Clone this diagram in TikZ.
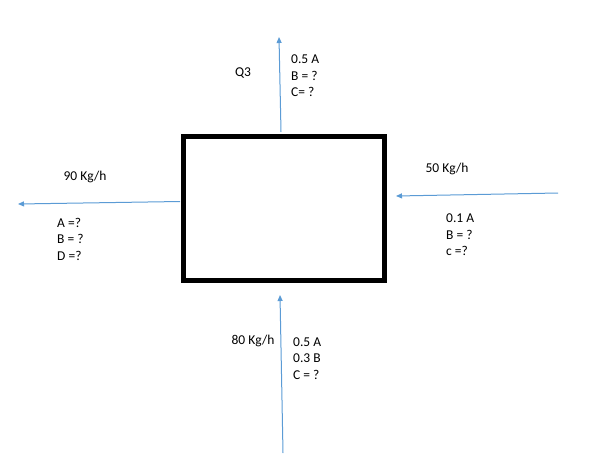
\documentclass[tikz,border=0pt]{standalone}
\usepackage{fontspec}
\setmainfont{Carlito}
\usetikzlibrary{arrows.meta}
\definecolor{flow}{HTML}{5B9BD5}
\begin{document}
\begin{tikzpicture}[x=1pt,y=-1pt,
  flowline/.style={draw=flow, line width=1pt, -{Triangle[length=6pt,width=5pt]}},
  lbl/.style={font=\fontsize{13.5}{16.5}\selectfont, inner sep=0pt, align=left}]
\useasboundingbox (0,0) rectangle (600,464);
\node[draw, line width=5pt, minimum width=200.5pt, minimum height=144pt, inner sep=0pt] (unit) at (283.75,208.5) {};
% arrow end points
\coordinate (topS) at (281,132);
\coordinate (topE) at (279,37);
\coordinate (leftS) at (180,201.5);
\coordinate (leftE) at (18,204);
\coordinate (rightS) at (558,193);
\coordinate (rightE) at (396,196);
\coordinate (botS) at (283,453);
\coordinate (botE) at (280,295);
\draw[flowline] (topS) -- (topE);
\draw[flowline] (leftS) -- (leftE);
\draw[flowline] (rightS) -- (rightE);
\draw[flowline] (botS) -- (botE);
% labels
\node[lbl] (q3) at (243,73) {Q3};
\node[lbl, anchor=west] (topc) at (291,76) {0.5 A\\B = ?\\C= ?};
\node[lbl] (leftf) at (85,177) {90 Kg/h};
\node[lbl, anchor=west] (leftc) at (57,239) {A =?\\B = ?\\D =?};
\node[lbl] (rightf) at (447,169) {50 Kg/h};
\node[lbl, anchor=west] (rightc) at (446,235) {0.1 A\\B = ?\\c =?};
\node[lbl] (botf) at (253,341) {80 Kg/h};
\node[lbl, anchor=west] (botc) at (293,358.5) {0.5 A\\0.3 B\\C = ?};
\end{tikzpicture}
\end{document}
